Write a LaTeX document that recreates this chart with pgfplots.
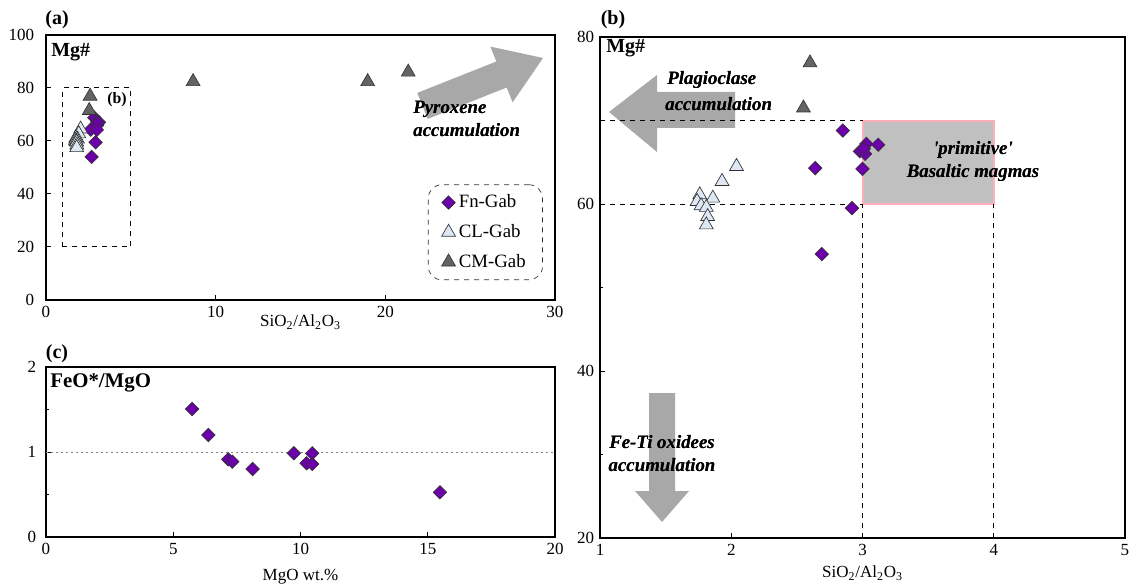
\documentclass[border=0pt]{standalone}
\usepackage{fontspec}
\setmainfont{Liberation Serif}
\usepackage{pgfplots}
\pgfplotsset{compat=1.18}
\usepackage{pgfplotstable}

\definecolor{fn}{RGB}{108,0,170}
\definecolor{cl}{RGB}{222,232,245}
\definecolor{cm}{RGB}{100,100,100}
\definecolor{arr}{RGB}{168,168,168}
\definecolor{boxc}{RGB}{192,192,192}
\definecolor{pinkb}{RGB}{255,175,185}

\newcommand\annfont{\fontsize{11.3}{13}\selectfont\bfseries\itshape}
\newcommand\labfont{\fontsize{12}{14}\selectfont\bfseries}
% white outline behind the text (stroked copy), then the text itself
\newcommand\halo[1]{\rlap{\special{pdf:content 1 Tr 2.6 w 1 1 1 RG 1 j}#1\special{pdf:content 0 Tr}}#1}

\pgfplotstableread{
x y
2.85 68.8
3.03 67.2
3.12 67.1
2.98 66.3
3.02 66.0
3.01 66.6
2.64 64.3
3.00 64.2
2.92 59.5
2.69 54.0
}\fnab

\pgfplotstableread{
x y
2.04 64.5
1.93 62.7
1.86 60.7
1.76 61.1
1.74 60.3
1.77 59.8
1.81 59.6
1.82 58.5
1.81 57.5
}\clab

\pgfplotstableread{
x y
2.60 76.9
2.55 71.5
8.67 82.4
18.96 82.4
21.35 86.0
}\cmab

\pgfplotstableread{
x y
5.74 1.506
6.38 1.20
7.16 0.914
7.32 0.886
8.12 0.80
9.74 0.985
10.46 0.985
10.24 0.867
10.46 0.859
15.48 0.526
}\fnc

\pgfplotsset{
  myax/.style={
    scale only axis,
    axis line style={line width=1.2pt},
    tick style={black, line width=0.6pt},
    tick align=inside,
    xtick pos=bottom, ytick pos=left,
    major tick length=3pt,
    minor tick length=2pt,
    tick label style={font=\fontsize{10.2}{12}\selectfont},
    label style={font=\fontsize{10.2}{12}\selectfont},
    /pgf/number format/assume math mode=true,
    xlabel style={at={(axis description cs:0.5,0)}, anchor=center},
  },
  fnst/.style={only marks, mark=square*, mark size=2.85pt,
    mark options={solid, rotate=45, fill=fn, draw=black!80, line width=0.4pt}},
  clst/.style={only marks, mark=triangle*, mark size=4.8pt,
    mark options={solid, fill=cl, draw=black!80, line width=0.4pt}},
  cmst/.style={only marks, mark=triangle*, mark size=4.8pt,
    mark options={solid, fill=cm, draw=black!80, line width=0.4pt}},
}

\begin{document}
\begin{tikzpicture}
\useasboundingbox (0,0) rectangle (681pt,-352.8pt);

% arrows (background)
\begin{scope}[x=0.6pt,y=-0.6pt]
\fill[arr] (427.7,118.9) -- (506.7,87.5) -- (512.6,102.4) -- (543,58) -- (490.4,46.6) -- (496.3,61.5) -- (417.3,92.9) -- cycle;
\fill[arr] (735,92) -- (657,92) -- (657,75) -- (609,112) -- (657,152) -- (657,128) -- (735,128) -- cycle;
\fill[arr] (649,393) -- (675,393) -- (675,491) -- (689,491) -- (662,522) -- (635,491) -- (649,491) -- cycle;
\end{scope}

% panel (a)
\begin{axis}[myax, at={(27.6pt,-180pt)}, anchor=south west,
  width=305.4pt, height=159pt,
  xmin=0, xmax=30, ymin=0, ymax=100,
  xtick={0,10,20,30}, ytick={0,20,...,100},
  yticklabel style={xshift=-3.6pt},
  xlabel={SiO\textsubscript{2}/Al\textsubscript{2}O\textsubscript{3}},
  xlabel style={yshift=-13.2pt},
  legend style={at={(0.976,0.075)}, anchor=south east, draw=black!80, dashed,
    rounded corners=8pt, font=\fontsize{11.3}{13}\selectfont,
    inner xsep=8pt, inner ysep=4pt, row sep=4.5pt},
  legend cell align=left,
]
\draw[dashed, line width=0.6pt] (axis cs:1,20) rectangle (axis cs:5,80);
\addplot[fnst] table {\fnab};
\addplot[clst] table {\clab};
\addplot[cmst] table {\cmab};
\legend{Fn-Gab, CL-Gab, CM-Gab}
\end{axis}

% panel (c)
\begin{axis}[myax, at={(27.6pt,-322.2pt)}, anchor=south west,
  width=305.4pt, height=102pt,
  xmin=0, xmax=20, ymin=0, ymax=2,
  xtick={0,5,10,15,20}, ytick={0,1,2},
  minor ytick={0.5,1.5},
  yticklabel style={xshift=-2.4pt},
  xlabel={MgO wt.\%},
  xlabel style={yshift=-24pt},
]
\draw[gray, dash pattern=on 1pt off 2pt, line width=0.6pt] (axis cs:0,1) -- (axis cs:20,1);
\addplot[fnst] table {\fnc};
\end{axis}

% panel (b)
\begin{axis}[myax, at={(360pt,-322.8pt)}, anchor=south west,
  width=315pt, height=300.6pt,
  xmin=1, xmax=5, ymin=20, ymax=80,
  xtick={1,2,3,4,5}, ytick={20,40,60,80},
  minor ytick={30,50,70},
  xlabel={SiO\textsubscript{2}/Al\textsubscript{2}O\textsubscript{3}},
  xlabel style={yshift=-21pt},
]
\fill[boxc] (axis cs:3,60) rectangle (axis cs:4,70);
\draw[pinkb, line width=1.2pt] (axis cs:3,60) rectangle (axis cs:4,70);
\draw[dashed, line width=0.6pt] (axis cs:1,70) -- (axis cs:3,70);
\draw[dashed, line width=0.6pt] (axis cs:1,60) -- (axis cs:3,60);
\draw[dashed, line width=0.6pt] (axis cs:3,20) -- (axis cs:3,60);
\draw[dashed, line width=0.6pt] (axis cs:4,20) -- (axis cs:4,60);
\addplot[fnst] table {\fnab};
\addplot[clst] table {\clab};
\addplot[cmst] table {\cmab};
\end{axis}

% texts
\begin{scope}[x=0.6pt,y=-0.6pt]
\node[font=\labfont] at (57,20) {(a)};
\node[font=\labfont] at (57,354) {(c)};
\node[font=\labfont] at (613,20) {(b)};
\node[font=\labfont, anchor=west, inner sep=0pt] at (51,52) {Mg\#};
\node[font=\labfont, anchor=west, inner sep=0pt] at (606,48) {Mg\#};
\node[font=\fontsize{12.5}{14}\selectfont\bfseries, anchor=west, inner sep=0pt] at (50,383) {FeO*/MgO};
\node[font=\fontsize{9.5}{11}\selectfont\bfseries] at (117,100) {(b)};
\node[font=\annfont, anchor=west, inner sep=0pt] at (413,109) {\halo{Pyroxene}};
\node[font=\annfont, anchor=west, inner sep=0pt] at (413,130) {\halo{accumulation}};
\node[font=\annfont, anchor=west, inner sep=0pt] at (667,80) {\halo{Plagioclase}};
\node[font=\annfont, anchor=west, inner sep=0pt] at (665,104) {\halo{accumulation}};
\node[font=\annfont, inner sep=0pt] at (662,442) {\halo{Fe-Ti oxidees}};
\node[font=\annfont, inner sep=0pt] at (662,465) {\halo{accumulation}};
\node[font=\annfont, inner sep=0pt] at (973,150) {\halo{\textquotesingle primitive\textquotesingle}};
\node[font=\annfont, inner sep=0pt] at (973,173) {\halo{Basaltic magmas}};
\end{scope}
\end{tikzpicture}
\end{document}
